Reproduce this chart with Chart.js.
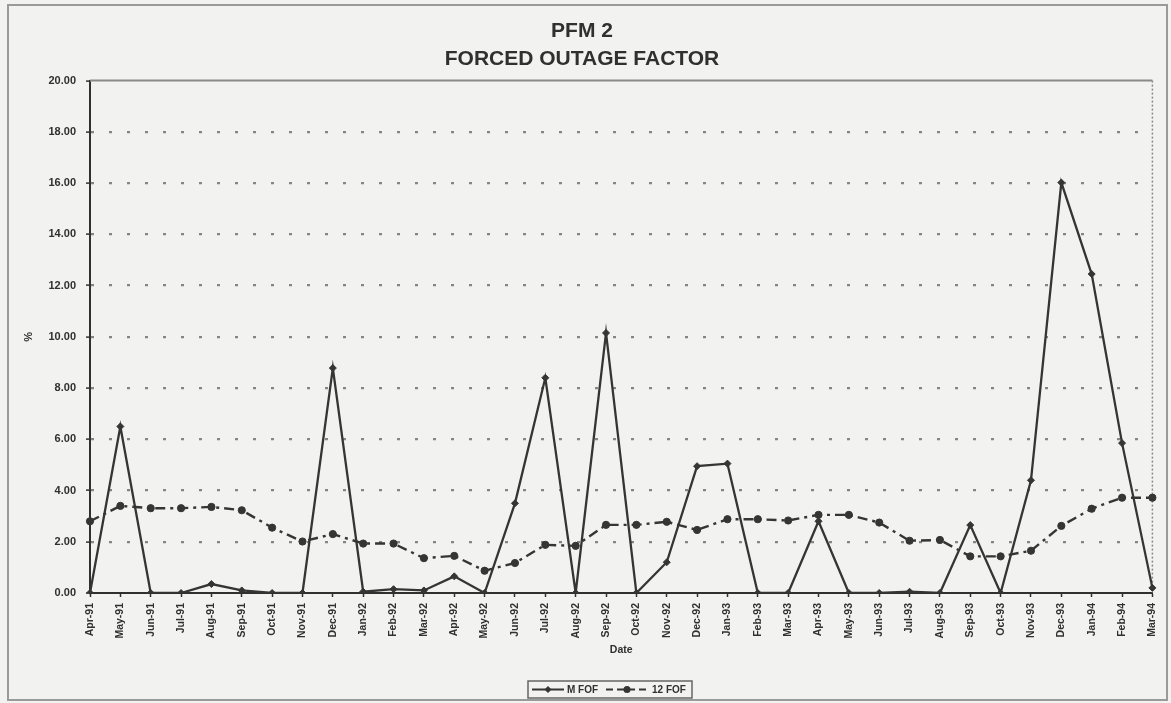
<!DOCTYPE html>
<html><head><meta charset="utf-8">
<script src="https://cdn.jsdelivr.net/npm/chart.js@4"></script>
<style>
html,body{margin:0;padding:0;background:#f1f1ef;}
canvas{display:block;}
</style></head><body>
<canvas id="c" width="1171" height="703"></canvas>
<script>
const titleLines = ['PFM 2', 'FORCED OUTAGE FACTOR'];
const categories = ['Apr-91','May-91','Jun-91','Jul-91','Aug-91','Sep-91','Oct-91','Nov-91','Dec-91',
  'Jan-92','Feb-92','Mar-92','Apr-92','May-92','Jun-92','Jul-92','Aug-92','Sep-92','Oct-92','Nov-92','Dec-92',
  'Jan-93','Feb-93','Mar-93','Apr-93','May-93','Jun-93','Jul-93','Aug-93','Sep-93','Oct-93','Nov-93','Dec-93',
  'Jan-94','Feb-94','Mar-94'];
const mFOF = [0, 6.5, 0, 0, 0.35, 0.1, 0, 0, 8.78, 0.05, 0.15, 0.1, 0.65, 0, 3.5, 8.4, 0, 10.15, 0, 1.2, 4.95,
  5.05, 0, 0, 2.8, 0, 0, 0.05, 0, 2.65, 0, 4.4, 16.02, 12.45, 5.85, 0.2];
const fof12 = [2.8, 3.4, 3.31, 3.31, 3.36, 3.23, 2.55, 2.01, 2.3, 1.93, 1.93, 1.36, 1.45, 0.87, 1.17, 1.88, 1.84,
  2.66, 2.66, 2.78, 2.46, 2.88, 2.88, 2.83, 3.05, 3.05, 2.75, 2.04, 2.07, 1.43, 1.43, 1.65, 2.62, 3.29, 3.72, 3.72];
const seriesNames = ['M FOF', '12 FOF'];
const yMin = 0, yMax = 20, yStep = 2;
const xTitle = 'Date', yTitle = '%';

const FONT = "'Liberation Sans', Arial, sans-serif";
const INK = '#303030';
const LINE = '#353535';

const framePlugin = {
  id: 'frame',
  beforeDraw(chart) {
    const c = chart.ctx;
    c.save();
    c.fillStyle = '#f2f2f0';
    c.fillRect(0, 0, chart.width, chart.height);
    c.strokeStyle = '#9a9a9a';
    c.lineWidth = 2;
    c.strokeRect(8, 5, 1159, 695);
    c.restore();
  },
  beforeDatasetsDraw(chart) {
    const a = chart.chartArea, c = chart.ctx;
    c.save();
    c.strokeStyle = '#8a8a8a';
    c.lineWidth = 2;
    c.beginPath(); c.moveTo(a.left, a.top); c.lineTo(a.right, a.top); c.stroke();
    c.setLineDash([2, 2]);
    c.lineWidth = 1.5;
    c.beginPath(); c.moveTo(a.right, a.top); c.lineTo(a.right, a.bottom); c.stroke();
    c.restore();
  }
};

const legendPlugin = {
  id: 'boxLegend',
  afterDraw(chart) {
    const c = chart.ctx;
    const x0 = 528, y0 = 681, w = 164, h = 17, cy = y0 + h / 2;
    c.save();
    c.strokeStyle = '#666';
    c.lineWidth = 1.5;
    c.strokeRect(x0, y0, w, h);
    const ds = chart.data.datasets;
    c.font = 'bold 10px ' + FONT; c.textBaseline = 'middle';
    c.strokeStyle = LINE; c.fillStyle = LINE; c.lineWidth = 2;
    c.beginPath(); c.moveTo(532, cy); c.lineTo(564, cy); c.stroke();
    c.beginPath(); c.moveTo(548, cy - 3.5); c.lineTo(551.5, cy); c.lineTo(548, cy + 3.5); c.lineTo(544.5, cy); c.closePath(); c.fill();
    c.fillStyle = INK;
    c.fillText(ds[0].label, 567, cy + 0.5);
    c.strokeStyle = LINE; c.fillStyle = LINE;
    c.setLineDash([7, 4]);
    c.beginPath(); c.moveTo(606, cy); c.lineTo(648, cy); c.stroke();
    c.setLineDash([]);
    c.beginPath(); c.arc(627, cy, 3.5, 0, Math.PI * 2); c.fill();
    c.fillStyle = INK;
    c.fillText(ds[1].label, 652, cy + 0.5);
    c.restore();
  }
};

const yTickValues = [];
for (let v = yMin; v <= yMax; v += yStep) yTickValues.push(v);

new Chart(document.getElementById('c'), {
  type: 'line',
  data: {
    labels: categories,
    datasets: [
      { label: seriesNames[0], data: mFOF, borderColor: LINE, backgroundColor: LINE, borderWidth: 2.3,
        pointStyle: 'rectRot', pointRadius: 3.5, pointBorderWidth: 1, tension: 0, fill: false },
      { label: seriesNames[1], data: fof12, borderColor: LINE, backgroundColor: LINE, borderWidth: 2.4,
        borderDash: [10, 5, 3, 5], pointStyle: 'circle', pointRadius: 3.6, pointBorderWidth: 1, tension: 0, fill: false }
    ]
  },
  options: {
    responsive: false,
    animation: false,
    layout: { padding: { left: 0, right: 7, top: 0, bottom: 43 } },
    plugins: {
      legend: { display: false },
      tooltip: { enabled: false },
      title: { display: true, text: titleLines, color: INK,
        font: { family: FONT, size: 21, weight: 'bold', lineHeight: 1.3 },
        padding: { top: 18, bottom: 8 } }
    },
    scales: {
      x: {
        offset: false,
        grid: { display: true, drawOnChartArea: false, drawTicks: true, tickLength: 4, tickColor: INK, tickWidth: 1.5 },
        border: { color: INK, width: 2 },
        ticks: { autoSkip: false, maxRotation: 90, minRotation: 90, color: INK, padding: 6,
          font: { family: FONT, size: 10.5, weight: 'bold' } },
        title: { display: true, text: xTitle, color: INK, font: { family: FONT, size: 10.5, weight: 'bold' },
          padding: { top: 4, bottom: 4 } },
        afterFit(s) { s.height = 67; }
      },
      y: {
        min: yMin, max: yMax,
        afterBuildTicks(s) { s.ticks = yTickValues.map(v => ({ value: v })); },
        grid: {
          color: (ctx) => (ctx.tick && (ctx.tick.value === yMin || ctx.tick.value === yMax)) ? 'rgba(0,0,0,0)' : '#858585',
          lineWidth: 2.2, tickLength: 4, tickColor: INK, tickWidth: 1.5
        },
        border: { color: INK, width: 2, dash: [3, 15] },
        ticks: { color: INK, padding: 10, font: { family: FONT, size: 11, weight: 'bold' },
          callback: (v) => Number(v).toFixed(2) },
        title: { display: true, text: yTitle, color: INK, font: { family: FONT, size: 11, weight: 'bold' },
          padding: { top: 22, bottom: 0 } },
        afterFit(s) { s.width = 90; }
      }
    }
  },
  plugins: [framePlugin, legendPlugin]
});
</script>
</body></html>
